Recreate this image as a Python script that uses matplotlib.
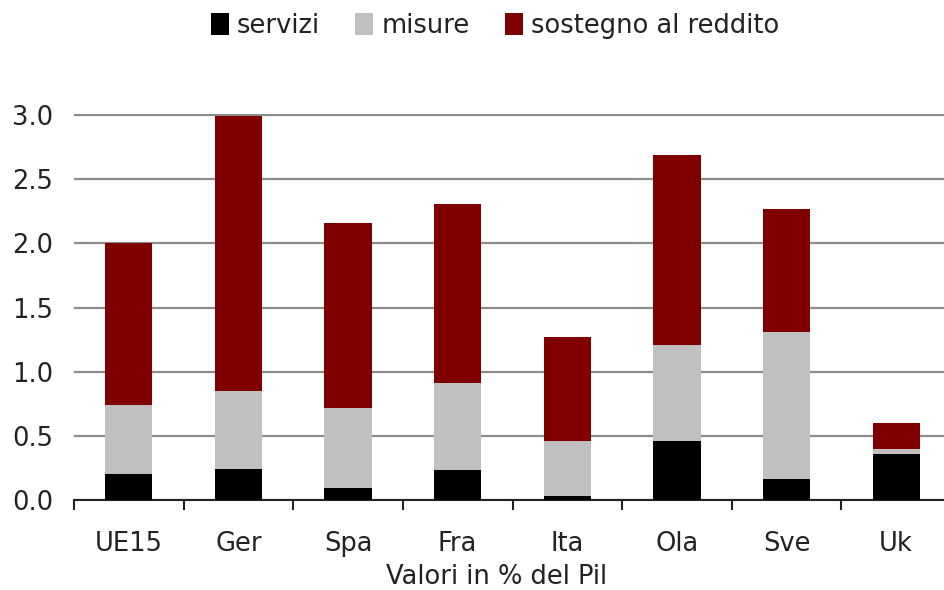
import matplotlib.pyplot as plt
import numpy as np

paesi = ['UE15', 'Ger', 'Spa', 'Fra', 'Ita', 'Ola', 'Sve', 'Uk']
servizi = [0.20, 0.24, 0.09, 0.23, 0.03, 0.46, 0.16, 0.36]
misure = [0.54, 0.61, 0.63, 0.68, 0.43, 0.75, 1.15, 0.04]
sostegno = [1.26, 2.14, 1.44, 1.40, 0.81, 1.48, 0.96, 0.20]

plt.rcParams['font.family'] = 'DejaVu Sans'
fs = 18.5
txt = '#222222'

fig = plt.figure(figsize=(9.45, 5.9), dpi=100)
# axes a bit wider than the figure: the last category is cut at the right edge
ytop = 3.01
ax = fig.add_axes([74 / 945, 90 / 590, 877 / 945, 385 * ytop / 3.0 / 590])

x = np.arange(len(paesi))
w = 0.43
s = np.array(servizi)
m = np.array(misure)
r = np.array(sostegno)
ax.bar(x, s, w, color='#000000', label='servizi', zorder=3)
ax.bar(x, m, w, bottom=s, color='#c0c0c0', label='misure', zorder=3)
ax.bar(x, r, w, bottom=s + m, color='#800000', label='sostegno al reddito', zorder=3)

ax.set_xlim(-0.5, len(paesi) - 0.5)
ax.set_ylim(0, ytop)
yt = np.arange(0, 3.01, 0.5)
ax.set_yticks(yt)
ax.set_yticklabels(['%.1f' % v for v in yt])
ax.yaxis.grid(True, color='#8c8c8c', linewidth=1.6, zorder=0)
ax.tick_params(axis='y', length=0, labelsize=fs, pad=15, colors=txt)

ax.set_xticks(x)
ax.set_xticklabels(paesi)
ax.set_xticks(np.arange(-0.5, len(paesi)), minor=True)
ax.tick_params(axis='x', which='major', length=0, labelsize=fs, pad=22, colors=txt)
ax.tick_params(axis='x', which='minor', length=7, width=1.5, color=txt, direction='out')

for sp in ['top', 'right', 'left']:
    ax.spines[sp].set_visible(False)
ax.spines['bottom'].set_color(txt)
ax.spines['bottom'].set_linewidth(1.5)

ax.set_xlabel('Valori in % del Pil', fontsize=fs, color=txt)
ax.xaxis.set_label_coords((497 - 74) / 877, -0.165)

fig.legend(loc='center', bbox_to_anchor=(495 / 945, 1 - 26 / 590), ncol=3, frameon=False,
           fontsize=fs, handlelength=0.7, handleheight=0.9, handletextpad=0.3,
           columnspacing=1.4, labelcolor=txt)

fig.savefig('out.png', dpi=100)
